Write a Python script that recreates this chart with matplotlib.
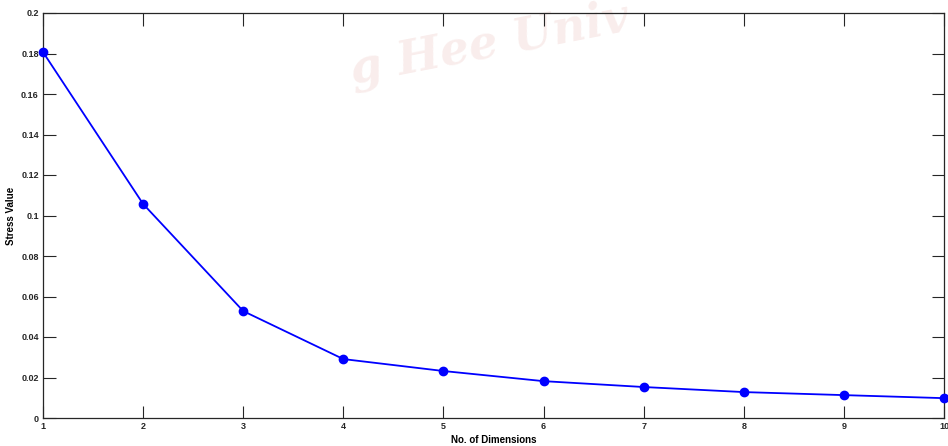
import numpy as np
import matplotlib.pyplot as plt

# stress vs. number of dimensions
dims = [1, 2, 3, 4, 5, 6, 7, 8, 9, 10]
stress = [0.1807, 0.1057, 0.0528, 0.0291, 0.0232, 0.0182, 0.0153, 0.0128, 0.0113, 0.0098]
yticks = [0, 0.02, 0.04, 0.06, 0.08, 0.1, 0.12, 0.14, 0.16, 0.18, 0.2]
ytick_labels = ['0', '0.02', '0.04', '0.06', '0.08', '0.1', '0.12', '0.14', '0.16', '0.18', '0.2']

plt.rcParams['font.family'] = ['Liberation Sans', 'DejaVu Sans']

fig = plt.figure(figsize=(9.48, 4.46), dpi=100)
ax = fig.add_axes([43 / 948, 28 / 446, 901 / 948, 405 / 446])
ax.patch.set_alpha(0)

# faint watermark behind the plot (only part of it shows in the original)
fig.text(490 / 948, 1 - 44 / 446, 'g Hee Univ', fontsize=33, family='DejaVu Serif',
         style='italic', fontweight='bold', color='#c0392b', alpha=0.09,
         rotation=11, ha='center', va='center', zorder=-5)

ax.plot(dims, stress, color='#0000ff', linewidth=1.3, marker='o',
        markersize=6, clip_on=False, zorder=3)

ax.set_xlim(1, 10)
ax.set_ylim(0, 0.2)
ax.set_xticks(dims)
ax.set_yticks(yticks)
ax.set_yticklabels(ytick_labels)
ax.tick_params(direction='in', length=9, width=0.8, top=True, right=True,
               labelsize=6.5, colors='#262626', pad=3)
for lbl in ax.get_xticklabels() + ax.get_yticklabels():
    lbl.set_fontweight('bold')
for s in ax.spines.values():
    s.set_color('#262626')
    s.set_linewidth(0.9)

ax.set_xlabel('No. of Dimensions', fontsize=7, fontweight='bold', labelpad=3)
ax.set_ylabel('Stress Value', fontsize=7, fontweight='bold', labelpad=4)

fig.savefig('out.png', dpi=100)
